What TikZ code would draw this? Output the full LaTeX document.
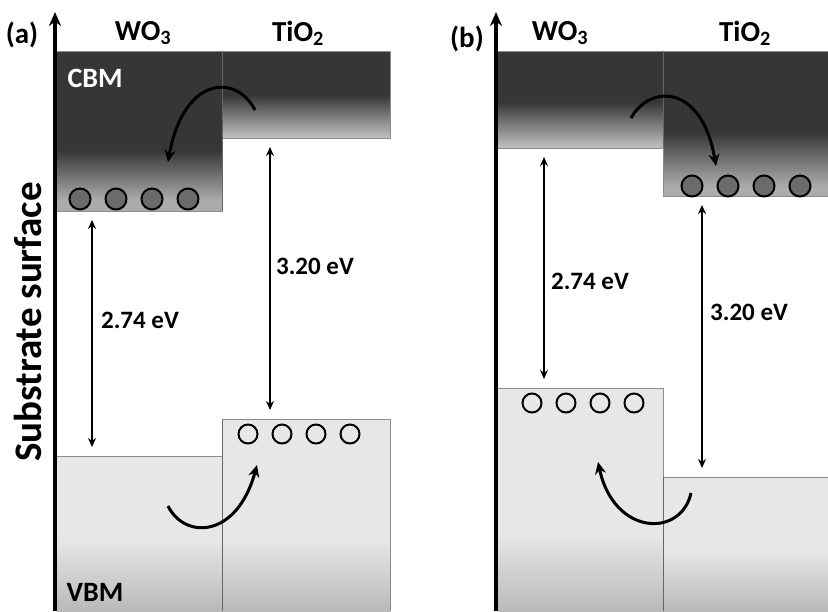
\documentclass[tikz,border=0pt]{standalone}
\usepackage{fontspec}
\setmainfont{Carlito}
\usetikzlibrary{positioning, arrows.meta}

\definecolor{cbdark}{HTML}{363636}
\definecolor{cbpale}{HTML}{ABABAB}
\definecolor{cbfade}{HTML}{C2C2C2}
\definecolor{vbpale}{HTML}{E7E7E7}
\definecolor{vbdark}{HTML}{B9B9B9}
\definecolor{edgegray}{HTML}{8C8C8C}

\begin{document}
\begin{tikzpicture}[x=1pt, y=-1pt, node distance=13pt,
   axis/.style={-{Stealth[length=14pt, width=12pt]}, line width=3.8pt},
   gap/.style={{Stealth[length=9pt, width=8pt]}-{Stealth[length=9pt, width=8pt]}, line width=1.5pt, shorten <=9pt, shorten >=9pt},
   hop/.style={-{Stealth[length=12pt, width=11pt]}, line width=3pt},
   electron/.style={circle, draw, line width=2pt, fill=black!58, minimum size=21pt, inner sep=0pt},
   hole/.style={circle, draw, line width=2pt, minimum size=19pt, inner sep=0pt},
   title/.style={font=\bfseries\fontsize{29}{33}\selectfont, anchor=base},
   gaplabel/.style={font=\bfseries\fontsize{25}{29}\selectfont},
   bandlabel/.style={font=\bfseries\fontsize{28}{32}\selectfont, anchor=base, inner sep=0pt},
   seam/.style={draw=black!60, line width=0.9pt}
]
\useasboundingbox (0,0) rectangle (828,611);

% Panel (a): bands
\fill[cbdark] (57,51) rectangle (222,211);
\shade[top color=cbdark, bottom color=cbpale] (57,150) rectangle (222,200);
\fill[cbpale] (57,200) rectangle (222,211);
\fill[cbdark] (222,51) rectangle (390,138);
\shade[top color=cbdark, bottom color=cbfade] (222,95) rectangle (390,138);
\draw[edgegray, line width=0.6pt] (57,51) -- (390,51) -- (390,138) -- (222,138) -- (222,211) -- (57,211);
\fill[vbpale] (57,456) rectangle (222,611);
\shade[top color=vbpale, bottom color=vbdark] (57,540) rectangle (222,611);
\fill[vbpale] (222,419) rectangle (390,611);
\shade[top color=vbpale, bottom color=vbdark] (222,540) rectangle (390,611);
\draw[edgegray, line width=0.6pt] (57,456) -- (222,456) -- (222,419) -- (390,419) -- (390,611);
\draw[seam] (222,51) -- (222,211);
\draw[seam] (222,419) -- (222,611);

% Panel (b): bands
\fill[cbdark] (498,51) rectangle (663,148);
\shade[top color=cbdark, bottom color=cbfade] (498,102) rectangle (663,148);
\fill[cbdark] (663,51) rectangle (828,196);
\shade[top color=cbdark, bottom color=cbpale] (663,132) rectangle (828,186);
\fill[cbpale] (663,186) rectangle (828,196);
\draw[edgegray, line width=0.6pt] (498,51) -- (828,51);
\draw[edgegray, line width=0.6pt] (498,148) -- (663,148) -- (663,196) -- (828,196);
\fill[vbpale] (498,388) rectangle (663,611);
\shade[top color=vbpale, bottom color=vbdark] (498,535) rectangle (663,611);
\fill[vbpale] (663,477) rectangle (828,611);
\shade[top color=vbpale, bottom color=vbdark] (663,550) rectangle (828,611);
\draw[edgegray, line width=0.6pt] (498,388) -- (663,388) -- (663,477) -- (828,477);
\draw[seam] (663,51) -- (663,148);
\draw[seam] (663,477) -- (663,611);

% Electrons and holes
\node[electron] (ae1) at (80,199) {};
\node[electron, right=of ae1] (ae2) {};
\node[electron, right=of ae2] (ae3) {};
\node[electron, right=of ae3] (ae4) {};
\node[hole] (ah1) at (248,434) {};
\node[hole, right=of ah1] (ah2) {};
\node[hole, right=of ah2] (ah3) {};
\node[hole, right=of ah3] (ah4) {};
\node[electron] (be1) at (692,186) {};
\node[electron, right=of be1] (be2) {};
\node[electron, right=of be2] (be3) {};
\node[electron, right=of be3] (be4) {};
\node[hole] (bh1) at (532,403) {};
\node[hole, right=of bh1] (bh2) {};
\node[hole, right=of bh2] (bh3) {};
\node[hole, right=of bh3] (bh4) {};

% Band gaps
\coordinate (aWc) at (92,211);
\coordinate (aWv) at (92,456);
\coordinate (aTc) at (270,138);
\coordinate (aTv) at (270,419);
\coordinate (bWc) at (544,148);
\coordinate (bWv) at (544,388);
\coordinate (bTc) at (702,196);
\coordinate (bTv) at (702,477);
\draw[gap] (aWc) -- (aWv);
\draw[gap] (aTc) -- (aTv);
\draw[gap] (bWc) -- (bWv);
\draw[gap] (bTc) -- (bTv);
\node[gaplabel] (agW) at (140,320) {2.74 eV};
\node[gaplabel] (agT) at (315,266) {3.20 eV};
\node[gaplabel] (bgW) at (590,281) {2.74 eV};
\node[gaplabel] (bgT) at (749,312) {3.20 eV};

% Charge transfer
\coordinate (aes) at (255,110);
\coordinate (aee) at (168,162);
\coordinate (ahs) at (168,506);
\coordinate (ahe) at (257,465);
\coordinate (bes) at (631,118);
\coordinate (bee) at (716,166);
\coordinate (bhs) at (691,493);
\coordinate (bhe) at (598,462);
\draw[hop] (aes) .. controls (235,72) and (183,78) .. (aee);
\draw[hop] (ahs) .. controls (185,540) and (237,538) .. (ahe);
\draw[hop] (bes) .. controls (650,84) and (702,84) .. (bee);
\draw[hop] (bhs) .. controls (681,538) and (614,536) .. (bhe);

% Labels
\node[title] (alab) at (22,43) {(a)};
\node[title] (aW) at (143,40) {WO\textsubscript{3}};
\node[title] (aT) at (298,41) {TiO\textsubscript{2}};
\node[title] (blab) at (467,47) {(b)};
\node[title] (bW) at (560,40) {WO\textsubscript{3}};
\node[title] (bT) at (745,41) {TiO\textsubscript{2}};
\node[bandlabel, text=white] (cbm) at (95,87) {CBM};
\node[bandlabel] (vbm) at (95,601) {VBM};
\node[font=\bfseries\fontsize{39}{44}\selectfont, rotate=90] (surf) at (28,322) {Substrate surface};

% Axes
\coordinate (aax0) at (55,611);
\coordinate (aax1) at (55,12);
\coordinate (bax0) at (496,611);
\coordinate (bax1) at (496,12);
\draw[axis] (aax0) -- (aax1);
\draw[axis] (bax0) -- (bax1);

\end{tikzpicture}
\end{document}
